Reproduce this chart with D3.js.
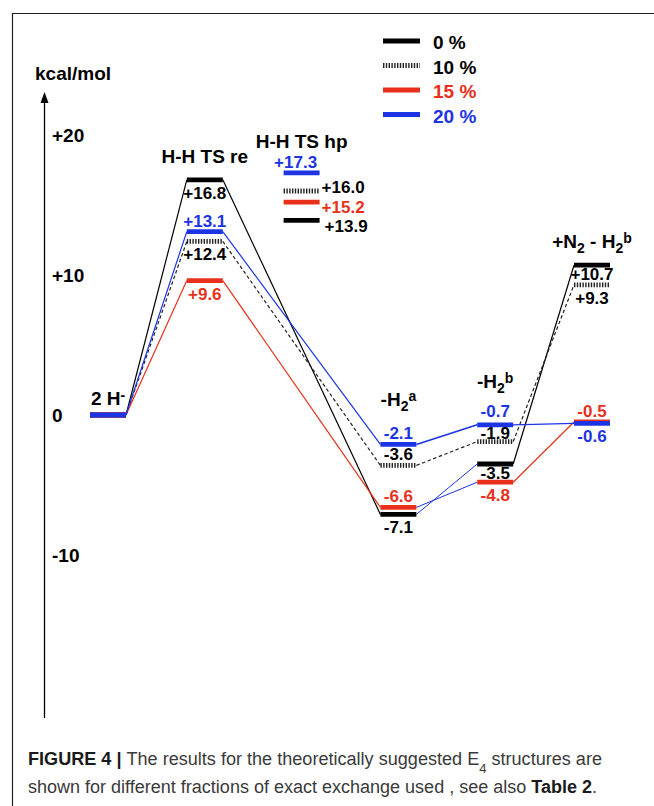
<!DOCTYPE html>
<html lang="en">
<head>
<meta charset="UTF-8" />
<title>Figure 4</title>
<style>
  body { margin: 0; background: #fff; }
  svg text { font-family: "Liberation Sans", Arial, sans-serif; }
</style>
</head>
<body>
<svg id="chart" width="654" height="806"></svg>
<script src="https://d3js.org/d3.v7.min.js"></script>
<script>
var w = 654, h = 806;

// states along the reaction path
var states = ["2H", "TSre", "TShp", "H2a", "H2b", "N2H2b"];
var fractions = ["0 %", "10 %", "15 %", "20 %"];
// relative energies, kcal/mol, one array per fraction of exact exchange
var e0  = [0, 16.8, 13.9, -7.1, -3.5, 10.7];
var e10 = [0, 12.4, 16.0, -3.6, -1.9, 9.3];
var e15 = [0, 9.6, 15.2, -6.6, -4.8, -0.5];
var e20 = [0, 13.1, 17.3, -2.1, -0.7, -0.6];
var yTicks = [20, 10, 0, -10];

var red = "#e8301c", blue = "#1c34e4";
var half = 18;   // half width of a level bar

var series = [
  { name: fractions[0], vals: e0,  color: "#000", text: "#000", dotted: false },
  { name: fractions[1], vals: e10, color: "#222", text: "#000", dotted: true },
  { name: fractions[2], vals: e15, color: red,   text: red,    dotted: false },
  { name: fractions[3], vals: e20, color: blue,  text: blue,   dotted: false }
];

// where each value label sits relative to its bar
var place = [
  [null, "below", "rightBelow", "below", "belowTight", "belowTight"],
  [null, "below", "rightUp", "above", "aboveTight", "below"],
  [null, "below", "right", "above", "below", "above"],
  [null, "above", "aboveLeft", "above", "aboveHigh", "below"]
];

// states that are linked by lines (TS hp stands alone)
var pathIdx = [0, 1, 3, 4, 5];

var y = d3.scaleLinear().domain([-10, 20]).range([555, 135]);
var x = d3.scalePoint().domain(states).range([108, 592]);

var svg = d3.select("#chart");
svg.append("rect").attr("width", w).attr("height", h).attr("fill", "#fff");

// figure frame
svg.append("path")
  .attr("d", "M12.5,806V13.5H654")
  .attr("fill", "none")
  .attr("stroke", "#222")
  .attr("stroke-width", 1.2);

// energy axis with arrow
svg.append("line")
  .attr("x1", 44.5).attr("x2", 44.5)
  .attr("y1", 718).attr("y2", 100)
  .attr("stroke", "#000").attr("stroke-width", 1.3);
svg.append("path")
  .attr("d", "M44.5,92 L40.5,103 L48.5,103 Z")
  .attr("fill", "#000");
svg.append("text")
  .attr("x", 35).attr("y", 80)
  .attr("font-size", 19).attr("font-weight", "bold")
  .text("kcal/mol");

svg.selectAll("text.tick")
  .data(yTicks)
  .enter()
  .append("text")
  .attr("class", "tick")
  .attr("x", 52)
  .attr("y", function(d) { return y(d) + 7; })
  .attr("font-size", 19).attr("font-weight", "bold")
  .text(function(d) { return d > 0 ? "+" + d : d; });

// connecting lines
var links = [];
series.forEach(function(s, si) {
  for (var k = 0; k < pathIdx.length - 1; k++) {
    var a = pathIdx[k], b = pathIdx[k + 1];
    var col = s.color, sw = 1.2, dash = s.dotted ? "3.5 2.5" : null;
    // in the original the -H2a -> -H2b links of 0 % and 15 % are drawn blue
    if (a === 3 && (si === 0 || si === 2)) { col = blue; sw = 1; }
    if (a === 3 && si === 3) { sw = 1.6; }
    links.push({ a: a, b: b, va: s.vals[a], vb: s.vals[b], color: col, sw: sw, dash: dash });
  }
});

svg.selectAll("line.link")
  .data(links)
  .enter()
  .append("line")
  .attr("class", "link")
  .attr("x1", function(d) { return x(states[d.a]) + half; })
  .attr("y1", function(d) { return y(d.va); })
  .attr("x2", function(d) { return x(states[d.b]) - half; })
  .attr("y2", function(d) { return y(d.vb); })
  .attr("stroke", function(d) { return d.color; })
  .attr("stroke-width", function(d) { return d.sw; })
  .attr("stroke-dasharray", function(d) { return d.dash; });

// level bars
var bars = [];
series.forEach(function(s, si) {
  s.vals.forEach(function(v, i) {
    bars.push({ si: si, i: i, v: v });
  });
});

svg.selectAll("line.bar")
  .data(bars)
  .enter()
  .append("line")
  .attr("class", "bar")
  .attr("x1", function(d) { return x(states[d.i]) - half; })
  .attr("x2", function(d) { return x(states[d.i]) + half; })
  .attr("y1", function(d) { return y(d.v); })
  .attr("y2", function(d) { return y(d.v); })
  .attr("stroke", function(d) { return series[d.si].color; })
  .attr("stroke-width", 4.8)
  .attr("stroke-dasharray", function(d) { return series[d.si].dotted ? "1.4 1.4" : null; });

// value labels
function fmt(v) { return v > 0 ? "+" + v.toFixed(1) : v.toFixed(1); }

var vlabels = bars.filter(function(d) { return place[d.si][d.i]; });
svg.selectAll("text.val")
  .data(vlabels)
  .enter()
  .append("text")
  .attr("class", "val")
  .attr("font-size", 17).attr("font-weight", "bold")
  .attr("fill", function(d) { return series[d.si].text; })
  .attr("text-anchor", function(d) {
    var p = place[d.si][d.i];
    return (p.indexOf("right") === 0) ? "start" : "middle";
  })
  .attr("x", function(d) {
    var p = place[d.si][d.i], cx = x(states[d.i]);
    if (p === "right" || p === "rightUp") return cx + half + 2;
    if (p === "rightBelow") return cx + half + 5;
    if (p === "aboveLeft") return cx - 6;
    return cx;
  })
  .attr("y", function(d) {
    var p = place[d.si][d.i], cy = y(d.v);
    if (p === "above" || p === "aboveLeft") return cy - 5;
    if (p === "aboveHigh") return cy - 8;
    if (p === "aboveTight") return cy - 3;
    if (p === "below") return cy + 19;
    if (p === "belowTight") return cy + 15;
    if (p === "right") return cy + 11;
    if (p === "rightUp") return cy + 2;
    return cy + 12;
  })
  .text(function(d) { return fmt(d.v); });

// state labels
var stateText = {
  "2H":    [["2 H", ""], ["-", "super"]],
  "TSre":  [["H-H TS re", ""]],
  "TShp":  [["H-H TS hp", ""]],
  "H2a":   [["-H", ""], ["2", "sub"], ["a", "super"]],
  "H2b":   [["-H", ""], ["2", "sub"], ["b", "super"]],
  "N2H2b": [["+N", ""], ["2", "sub"], [" - H", ""], ["2", "sub"], ["b", "super"]]
};
var stateGap = { "2H": 10, "TSre": 17, "TShp": 25, "H2a": 38, "H2b": 37, "N2H2b": 17 };

states.forEach(function(st, i) {
  var top = d3.max(series, function(s) { return s.vals[i]; });
  var t = svg.append("text")
    .attr("class", "state")
    .attr("x", x(st))
    .attr("y", y(top) - stateGap[st])
    .attr("text-anchor", "middle")
    .attr("font-size", 19).attr("font-weight", "bold");
  stateText[st].forEach(function(p) {
    var ts = t.append("tspan").text(p[0]);
    if (p[1]) ts.attr("baseline-shift", p[1] === "sub" ? "-5" : "5").attr("font-size", 14);
  });
});

// legend
var leg = svg.selectAll("g.leg")
  .data(series)
  .enter()
  .append("g")
  .attr("class", "leg")
  .attr("transform", function(d, i) { return "translate(383," + (41 + i * 24.5) + ")"; });
leg.append("line")
  .attr("x1", 0).attr("x2", 37)
  .attr("stroke", function(d) { return d.color; })
  .attr("stroke-width", 4.8)
  .attr("stroke-dasharray", function(d) { return d.dotted ? "1.4 1.4" : null; });
leg.append("text")
  .attr("x", 50).attr("y", 8)
  .attr("font-size", 19).attr("font-weight", "bold")
  .attr("fill", function(d) { return d.text; })
  .text(function(d) { return d.name; });

// caption
var cap1 = svg.append("text")
  .attr("x", 28).attr("y", 765)
  .attr("font-size", 18).attr("fill", "#3a3a3a")
  .attr("textLength", 574).attr("lengthAdjust", "spacingAndGlyphs");
cap1.append("tspan").attr("font-weight", "bold").attr("fill", "#1a1a1a").text("FIGURE 4 | ");
cap1.append("tspan").text("The results for the theoretically suggested E");
cap1.append("tspan").attr("baseline-shift", "sub").attr("font-size", 13).text("4");
cap1.append("tspan").text(" structures are");

var cap2 = svg.append("text")
  .attr("x", 28).attr("y", 793)
  .attr("font-size", 18).attr("fill", "#3a3a3a")
  .attr("textLength", 569).attr("lengthAdjust", "spacingAndGlyphs");
cap2.append("tspan").text("shown for different fractions of exact exchange used , see also ");
cap2.append("tspan").attr("font-weight", "bold").attr("fill", "#1a1a1a").text("Table 2");
cap2.append("tspan").text(".");
</script>
</body>
</html>
